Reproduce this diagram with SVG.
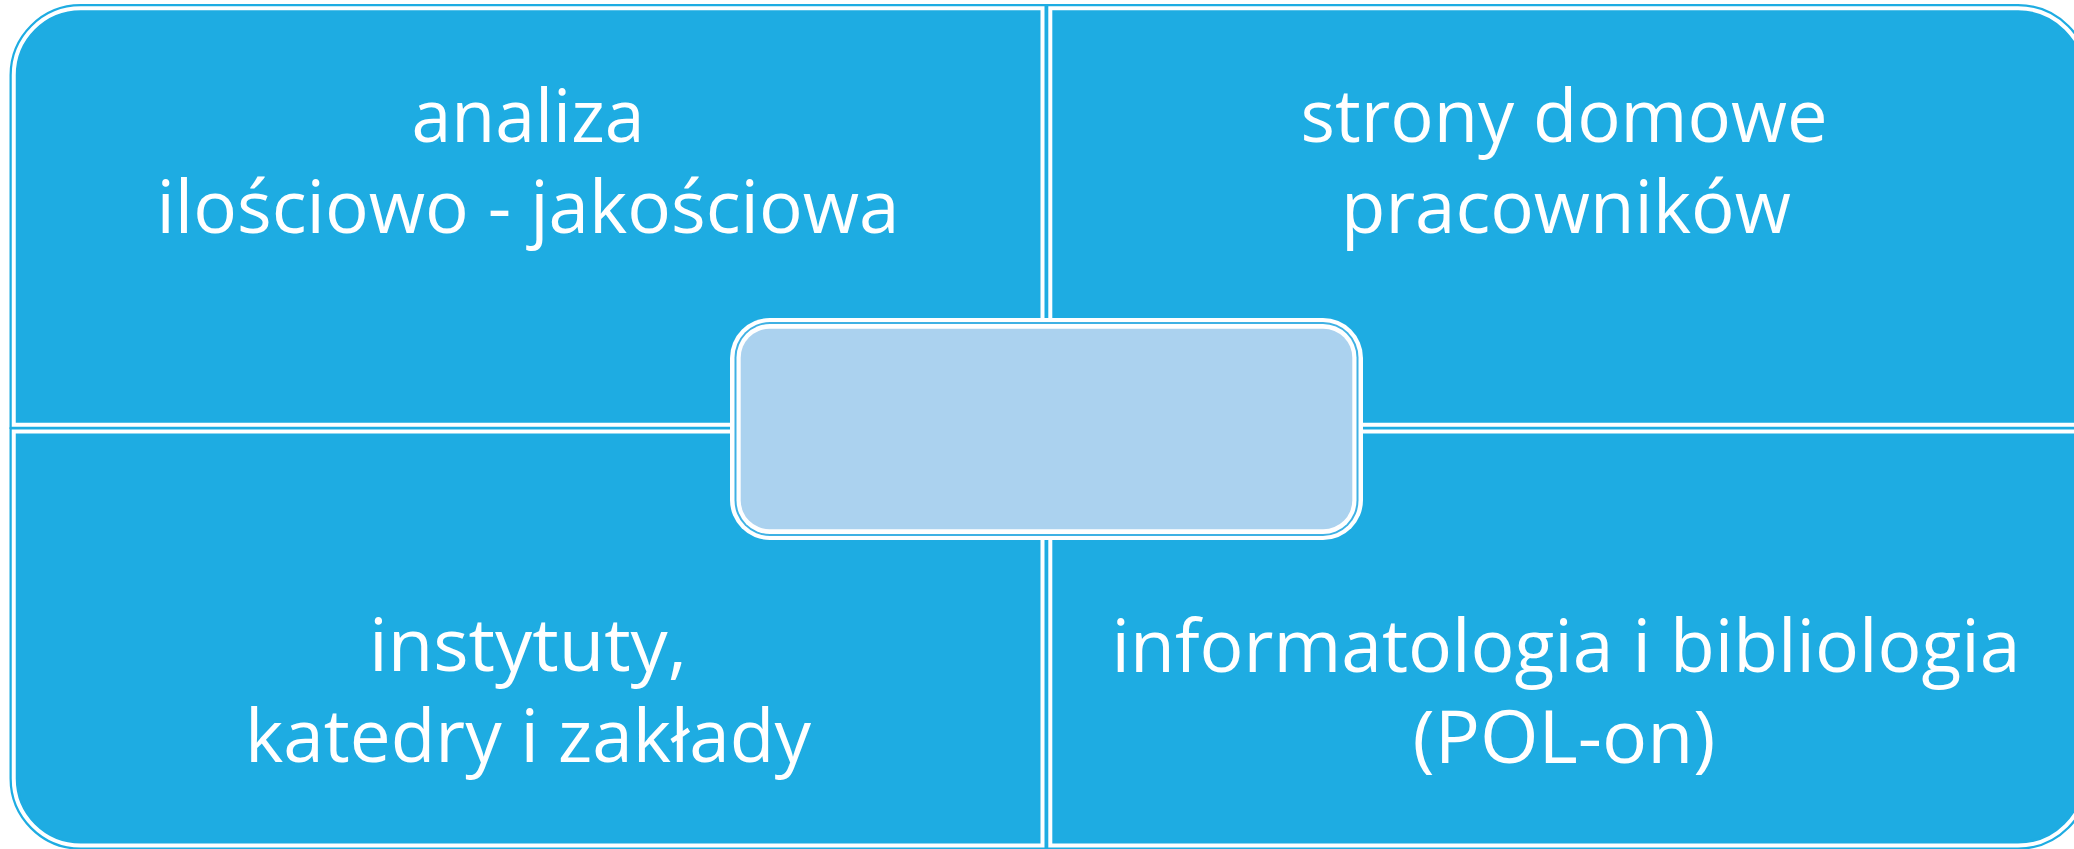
<svg xmlns="http://www.w3.org/2000/svg" width="2074" height="849" viewBox="0 0 2074 849">
  <defs>
    <style>
      .qo { fill: #1EACE2; stroke: #1EACE2; stroke-width: 8.5; stroke-linejoin: miter; }
      .qi { fill: none; stroke: #FFFFFF; stroke-width: 4; stroke-linejoin: miter; }
      .lbl { font-family: "Open Sans", "Liberation Sans", sans-serif; font-size: 74px; fill: #FFFFFF; text-anchor: middle; }
    </style>
    <path id="p-tl" d="M1042.5,8.3 H80.75 A67,67 0 0 0 13.75,75.3 V424.7 H1042.5 Z"/>
    <path id="p-tr" d="M1050.3,8.3 H2018 A68,68 0 0 1 2086,76.3 V424.7 H1050.3 Z"/>
    <path id="p-bl" d="M13.75,431.6 H1042.5 V845.5 H80.75 A67,67 0 0 1 13.75,778.5 Z"/>
    <path id="p-br" d="M1050.3,431.6 H2086 V777.5 A68,68 0 0 1 2018,845.5 H1050.3 Z"/>
  </defs>
  <rect x="0" y="0" width="2074" height="849" fill="#FFFFFF"/>

  <g id="node-tl">
    <use href="#p-tl" class="qo"/>
    <use href="#p-tl" class="qi"/>
    <text class="lbl" x="528" y="141.7" textLength="233" lengthAdjust="spacingAndGlyphs">analiza</text>
    <text class="lbl" x="528" y="232.7" textLength="743" lengthAdjust="spacingAndGlyphs">ilościowo - jakościowa</text>
  </g>

  <g id="node-tr">
    <use href="#p-tr" class="qo"/>
    <use href="#p-tr" class="qi"/>
    <text class="lbl" x="1564" y="141.7" textLength="527" lengthAdjust="spacingAndGlyphs">strony domowe</text>
    <text class="lbl" x="1566" y="232.7" textLength="450" lengthAdjust="spacingAndGlyphs">pracowników</text>
  </g>

  <g id="node-bl">
    <use href="#p-bl" class="qo"/>
    <use href="#p-bl" class="qi"/>
    <text class="lbl" x="528" y="670.7" textLength="318" lengthAdjust="spacingAndGlyphs">instytuty,</text>
    <text class="lbl" x="528" y="761.8" textLength="566" lengthAdjust="spacingAndGlyphs">katedry i zakłady</text>
  </g>

  <g id="node-br">
    <use href="#p-br" class="qo"/>
    <use href="#p-br" class="qi"/>
    <text class="lbl" x="1566" y="671.7" textLength="909" lengthAdjust="spacingAndGlyphs">informatologia i bibliologia</text>
    <text class="lbl" x="1564" y="762.7" textLength="303" lengthAdjust="spacingAndGlyphs">(POL-on)</text>
  </g>

  <g id="connectors"></g>

  <g id="node-center">
    <rect x="730" y="318" width="633" height="222" rx="40" ry="40" fill="#FFFFFF"/>
    <rect x="734.5" y="322" width="624" height="214" rx="35.5" ry="35.5" fill="#3FB1E4"/>
    <rect x="736.5" y="324" width="620" height="210" rx="33.5" ry="33.5" fill="#FFFFFF"/>
    <rect x="740.7" y="328.7" width="611.6" height="200.6" rx="29" ry="29" fill="#ABD2EF"/>
  </g>
</svg>
